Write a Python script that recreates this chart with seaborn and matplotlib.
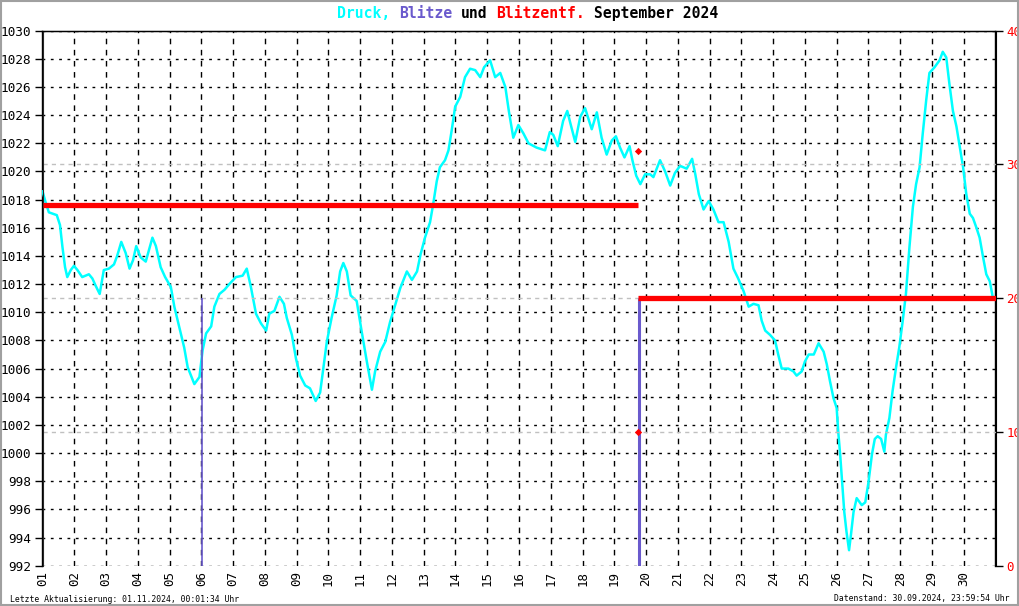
import matplotlib
matplotlib.use("Agg")
import matplotlib.pyplot as plt
import seaborn as sns
import pandas as pd

# ---------------- data ----------------
druck_tag = [1.00, 1.10, 1.20, 1.45, 1.55, 1.63, 1.71, 1.78, 1.89, 1.99, 2.10, 2.25, 2.46, 2.57, 2.67,
             2.80, 2.93, 3.09, 3.25, 3.35, 3.48, 3.62, 3.74, 3.85, 3.95, 4.09, 4.25, 4.36, 4.46, 4.57,
             4.72, 4.86, 5.04, 5.15, 5.30, 5.46, 5.57, 5.78, 5.94, 6.04, 6.15, 6.31, 6.41, 6.57, 6.73,
             6.88, 7.09, 7.30, 7.43, 7.56, 7.72, 7.88, 8.04, 8.14, 8.30, 8.46, 8.60, 8.69, 8.85, 8.98,
             9.11, 9.27, 9.42, 9.60, 9.74, 9.84, 9.95, 10.10, 10.26, 10.37, 10.47, 10.58, 10.70, 10.89,
             11.05, 11.21, 11.37, 11.47, 11.63, 11.79, 11.94, 12.10, 12.26, 12.47, 12.63, 12.79, 12.90,
             13.04, 13.20, 13.30, 13.41, 13.51, 13.67, 13.78, 13.88, 13.99, 14.15, 14.30, 14.46, 14.62,
             14.78, 14.90, 15.09, 15.25, 15.41, 15.57, 15.68, 15.82, 15.98, 16.14, 16.30, 16.55, 16.82,
             16.97, 17.08, 17.22, 17.39, 17.52, 17.62, 17.77, 17.93, 18.08, 18.29, 18.45, 18.60, 18.76,
             18.92, 19.05, 19.18, 19.32, 19.48, 19.57, 19.69, 19.82, 19.97, 20.13, 20.23, 20.44, 20.60,
             20.76, 20.91, 21.07, 21.28, 21.45, 21.55, 21.66, 21.81, 21.97, 22.12, 22.28, 22.44, 22.60,
             22.75, 22.90, 23.07, 23.23, 23.38, 23.54, 23.64, 23.75, 23.90, 24.06, 24.16, 24.27, 24.48,
             24.64, 24.74, 24.90, 25.00, 25.12, 25.28, 25.43, 25.59, 25.69, 25.79, 25.90, 26.00, 26.05,
             26.11, 26.18, 26.24, 26.31, 26.39, 26.45, 26.53, 26.63, 26.79, 26.90, 27.00, 27.11, 27.20,
             27.29, 27.40, 27.50, 27.55, 27.66, 27.76, 27.87, 27.97, 28.08, 28.18, 28.29, 28.40, 28.50,
             28.61, 28.71, 28.82, 28.92, 29.08, 29.24, 29.34, 29.45, 29.55, 29.66, 29.77, 29.88, 29.98,
             30.08, 30.19, 30.29, 30.40, 30.50, 30.61, 30.71, 30.82, 30.92]
druck_hpa = [1018.6, 1017.8, 1017.1, 1016.9, 1016.2, 1014.6, 1013.2, 1012.5, 1013.0, 1013.3, 1013.0,
             1012.5, 1012.7, 1012.4, 1011.9, 1011.3, 1013.0, 1013.1, 1013.4, 1014.0, 1015.0, 1014.2,
             1013.1, 1013.7, 1014.7, 1013.9, 1013.6, 1014.5, 1015.3, 1014.7, 1013.2, 1012.5, 1011.8,
             1010.4, 1009.0, 1007.5, 1006.1, 1004.9, 1005.4, 1007.3, 1008.5, 1009.0, 1010.4, 1011.3,
             1011.6, 1012.0, 1012.5, 1012.6, 1013.1, 1011.8, 1009.9, 1009.2, 1008.7, 1009.9, 1010.1,
             1011.1, 1010.6, 1009.6, 1008.4, 1006.7, 1005.5, 1004.8, 1004.6, 1003.7, 1004.3, 1006.0,
             1007.9, 1009.6, 1011.2, 1012.9, 1013.5, 1012.9, 1011.2, 1010.8, 1008.6, 1006.5, 1004.5,
             1005.8, 1007.2, 1007.9, 1009.3, 1010.5, 1011.7, 1012.9, 1012.3, 1012.9, 1014.1, 1015.3,
             1016.4, 1017.7, 1019.3, 1020.3, 1020.8, 1021.5, 1022.9, 1024.6, 1025.3, 1026.7, 1027.3,
             1027.2, 1026.7, 1027.4, 1027.9, 1026.7, 1027.0, 1026.0, 1024.3, 1022.4, 1023.3, 1022.7,
             1022.0, 1021.7, 1021.5, 1022.8, 1022.6, 1021.8, 1023.6, 1024.3, 1023.4, 1022.1, 1023.9,
             1024.5, 1023.0, 1024.2, 1022.4, 1021.2, 1022.2, 1022.5, 1021.7, 1021.0, 1021.8, 1020.8,
             1019.7, 1019.1, 1019.8, 1019.8, 1019.6, 1020.8, 1020.0, 1019.0, 1019.9, 1020.4, 1020.2,
             1020.9, 1019.8, 1018.4, 1017.3, 1017.9, 1017.3, 1016.4, 1016.4, 1015.0, 1013.1, 1012.4,
             1011.5, 1010.4, 1010.6, 1010.5, 1009.4, 1008.7, 1008.4, 1008.0, 1007.0, 1006.0, 1006.0,
             1005.8, 1005.5, 1005.8, 1006.5, 1007.0, 1007.0, 1007.8, 1007.2, 1006.3, 1005.1, 1003.9,
             1003.2, 1001.5, 999.9, 997.7, 995.8, 994.4, 993.1, 994.2, 995.8, 996.8, 996.3, 996.5,
             997.9, 999.9, 1001.0, 1001.2, 1001.0, 1000.1, 1001.3, 1002.5, 1004.4, 1006.1, 1007.5,
             1009.4, 1011.3, 1014.6, 1017.5, 1019.1, 1020.3, 1022.7, 1025.1, 1027.0, 1027.4, 1027.9,
             1028.5, 1028.1, 1026.2, 1024.3, 1023.2, 1021.7, 1020.3, 1018.4, 1017.0, 1016.7, 1016.0,
             1015.3, 1013.9, 1012.7, 1012.2, 1011.0]

# Blitze (vertical bars, right scale)
blitze_tag = [6.03, 19.78]
blitze_wert = [20, 20]

# Blitzentfernung (horizontal segments, right scale)
entf_von = [1.0, 19.75]
entf_bis = [19.75, 31.0]
entf_km = [27, 20]
# single distance points
entf_punkt_tag = [19.75, 19.75]
entf_punkt_km = [31, 10]

tage = list(range(1, 31))
tag_labels = [f"{d:02d}" for d in tage]
links_ticks = list(range(992, 1031, 2))
rechts_ticks = [0, 10, 20, 30, 40]

titel_teile = [("Druck,", "#00ffff"), ("Blitze", "#6a5acd"), ("und", "black"),
               ("Blitzentf.", "red"), ("September 2024", "black")]
fuss_links = "Letzte Aktualisierung: 01.11.2024, 00:01:34 Uhr"
fuss_rechts = "Datenstand: 30.09.2024, 23:59:54 Uhr"

# ---------------- plot ----------------
sns.set_style("white")
plt.rcParams["font.family"] = ["DejaVu Sans Mono", "DejaVu Sans"]

W, H = 1020, 606
fig = plt.figure(figsize=(W / 100, H / 100), dpi=100)
L, R, T, B = 42.5, 995.5, 30.7, 565.7
ax = fig.add_axes([L / W, 1 - B / H, (R - L) / W, (B - T) / H])

df = pd.DataFrame({"tag": druck_tag, "hpa": druck_hpa})
sns.lineplot(data=df, x="tag", y="hpa", ax=ax, color="#00ffff", linewidth=1.8,
             estimator=None, sort=False, zorder=3)

ax.set_xlim(1, 31)
ax.set_ylim(992, 1030)
ax.set_xticks(tage)
ax.set_xticklabels(tag_labels, rotation=90, fontsize=9)
ax.set_yticks(links_ticks)
ax.set_yticklabels([str(v) for v in links_ticks], fontsize=9.2)
ax.set_xlabel("")
ax.set_ylabel("")
ax.set_axisbelow(True)
ax.xaxis.grid(True, color="black", linestyle=(0, (4, 4)), linewidth=1)
ax.yaxis.grid(True, color="black", linestyle=(0, (2, 4)), linewidth=1)
ax.tick_params(axis="y", direction="out", length=5, width=1, color="black", pad=3, labelcolor="black")
ax.tick_params(axis="x", length=0, pad=4, labelcolor="black")
for s in ["left", "top", "right"]:
    ax.spines[s].set_visible(True)
    ax.spines[s].set_color("black")
    ax.spines[s].set_linewidth(1)
ax.spines["bottom"].set_visible(False)

ax2 = ax.twinx()
ax2.set_ylim(0, 40)
ax2.set_yticks(rechts_ticks)
ax2.set_yticklabels([str(v) for v in rechts_ticks], fontsize=9, color="red")
ax2.tick_params(axis="y", direction="out", length=5, width=1, color="black", pad=3)
ax2.spines["bottom"].set_visible(False)
ax2.spines["right"].set_color("black")
ax2.spines["top"].set_color("black")

# light gray reference lines at inner right ticks
ax2.hlines(rechts_ticks[1:4], 1, 31, colors="#c0c0c0", linestyles=(0, (3, 3)), linewidth=1, zorder=1)

# Blitze
ax2.vlines(blitze_tag[0], 0, blitze_wert[0], colors="#6a5acd", linewidth=1.2, zorder=2)
ax2.vlines(blitze_tag[1], 0, blitze_wert[1], colors="#6a5acd", linewidth=2.2, zorder=2)

# Blitzentfernung
seg = ax2.hlines(entf_km, entf_von, entf_bis, colors="red", linewidth=3.8, zorder=4)
seg.set_capstyle("butt")
pdf = pd.DataFrame({"tag": entf_punkt_tag, "km": entf_punkt_km})
sns.scatterplot(data=pdf, x="tag", y="km", ax=ax2, color="red", marker="D", s=14,
                edgecolor="red", linewidth=0, zorder=5)
ax2.set_xlim(1, 31)
ax2.set_xlabel("")
ax2.set_ylabel("")

# title pieces (monospace, placed char by char)
fs_title = 10.6
cw = 0.602 * fs_title * 100 / 72
x0 = 337
pos = 0
for txt, col in titel_teile:
    fig.text((x0 + pos * cw) / W, 1 - 13.5 / H, txt, color=col, fontsize=fs_title,
             fontweight="bold", ha="left", va="center", family="DejaVu Sans Mono")
    pos += len(txt) + 1

fig.text(10 / W, 1 - 599 / H, fuss_links, fontsize=5.9, ha="left", va="center", color="black")
fig.text(1010 / W, 1 - 599 / H, fuss_rechts, fontsize=5.9, ha="right", va="center", color="black")

fig.add_artist(plt.Rectangle((0.0005, 0.001), 0.998, 0.997, transform=fig.transFigure,
                             fill=False, edgecolor="#a0a0a0", linewidth=1.5))

fig.savefig("out.png", dpi=100)
